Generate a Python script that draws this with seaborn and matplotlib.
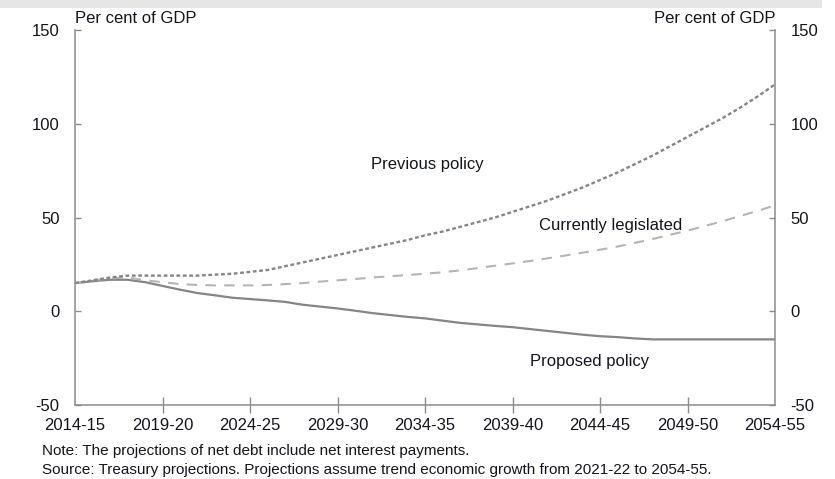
import numpy as np
import pandas as pd
import matplotlib
matplotlib.use("Agg")
import matplotlib.pyplot as plt
import seaborn as sns
from matplotlib.patches import Rectangle

sns.set_theme(style="white")
plt.rcParams['font.family'] = ['Liberation Sans', 'DejaVu Sans']
plt.rcParams['axes.unicode_minus'] = False

# financial years, start year 2014 (=2014-15) to 2054 (=2054-55)
years = list(range(2014, 2055))
previous_policy = [15, 16.5, 18, 19, 19, 19, 19, 19, 19.5, 20,
                   21, 22, 24, 26, 28, 30, 32, 34, 36, 38,
                   40.5, 42.5, 45, 47.5, 50, 53, 56, 59, 62.5, 66,
                   70, 74, 78.5, 83, 88, 93, 98, 103, 108.5, 114.5,
                   121]
currently_legislated = [15, 16.5, 17.5, 18, 16.5, 15.5, 14.5, 14, 13.8, 13.8,
                        13.8, 14, 14.5, 15, 15.8, 16.5, 17.2, 18, 18.7, 19.3,
                        20, 20.8, 21.8, 23, 24.3, 25.5, 26.8, 28.2, 29.7, 31.2,
                        32.8, 34.5, 36.5, 38.5, 40.8, 43, 45.5, 48, 50.8, 53.5,
                        56.5]
proposed_policy = [15, 16, 16.8, 16.8, 15.5, 13.5, 11.5, 9.7, 8.5, 7.2,
                   6.5, 5.8, 5, 3.5, 2.5, 1.5, 0.3, -1, -2, -3,
                   -3.8, -5, -6.2, -7, -7.8, -8.5, -9.5, -10.5, -11.5, -12.5,
                   -13.3, -13.8, -14.5, -15, -15, -15, -15, -15, -15, -15,
                   -15]
x_ticks = list(range(2014, 2055, 5))
x_labels = [f"{y}-{str(y + 1)[2:]}" for y in x_ticks]
y_ticks = [-50, 0, 50, 100, 150]

df = pd.DataFrame({"year": years, "previous": previous_policy,
                   "legislated": currently_legislated, "proposed": proposed_policy})

txt = '#14141e'
axcol = '#8c8c8c'

fig = plt.figure(figsize=(8.35, 4.79), dpi=100)
fig.patches.append(Rectangle((0, 479 - 8), 822, 8, transform=None,
                             facecolor='#e6e6e6', edgecolor='none'))
ax = fig.add_axes([75 / 835, 1 - 405 / 479, 700 / 835, 375 / 479])

sns.lineplot(data=df, x="year", y="proposed", ax=ax, color='#858585', lw=1.6)
sns.lineplot(data=df, x="year", y="legislated", ax=ax, color='#b4b4b4', lw=1.5).lines[-1].set_dashes([5, 4])
sns.lineplot(data=df, x="year", y="previous", ax=ax, color='#858585', lw=1.7).lines[-1].set_dashes([1.6, 1.1])

ax.set_xlim(2014, 2054)
ax.set_ylim(-50, 150)
ax.set_xlabel("")
ax.set_ylabel("")
ax.set_xticks(x_ticks)
ax.set_xticklabels(x_labels)
ax.set_yticks(y_ticks)
ax.tick_params(axis='x', length=0, pad=9, labelsize=12, labelcolor=txt)
ax.tick_params(axis='y', direction='in', length=4, width=1, color=axcol,
               left=True, right=True, labelleft=True, labelright=True,
               pad=11, labelsize=12, labelcolor=txt)
for s in ['top', 'bottom']:
    ax.spines[s].set_visible(False)
for s in ['left', 'right']:
    ax.spines[s].set_color(axcol)
    ax.spines[s].set_linewidth(1.1)

# zero line with year ticks crossing it
zero = ax.secondary_xaxis(0)
zero.spines['bottom'].set_color(axcol)
zero.spines['bottom'].set_linewidth(1.1)
zero.set_xticks(x_ticks[1:-1])
zero.tick_params(axis='x', direction='inout', length=12, width=1, color=axcol,
                 labelbottom=False)

ax.text(0, 1.01, "Per cent of GDP", transform=ax.transAxes, ha='left', va='bottom',
        fontsize=12, color=txt)
ax.text(1, 1.01, "Per cent of GDP", transform=ax.transAxes, ha='right', va='bottom',
        fontsize=12, color=txt)

ax.text(2030.9, 78, "Previous policy", ha='left', va='center', fontsize=12, color=txt)
ax.text(2040.5, 45.5, "Currently legislated", ha='left', va='center', fontsize=12, color=txt)
ax.text(2040, -27, "Proposed policy", ha='left', va='center', fontsize=12, color=txt)

fig.text(42 / 835, 1 - 451 / 479, "Note: The projections of net debt include net interest payments.",
         ha='left', va='center', fontsize=11, color=txt)
fig.text(42 / 835, 1 - 470 / 479,
         "Source: Treasury projections. Projections assume trend economic growth from 2021-22 to 2054-55.",
         ha='left', va='center', fontsize=11, color=txt)

fig.savefig("out.png", dpi=100)
